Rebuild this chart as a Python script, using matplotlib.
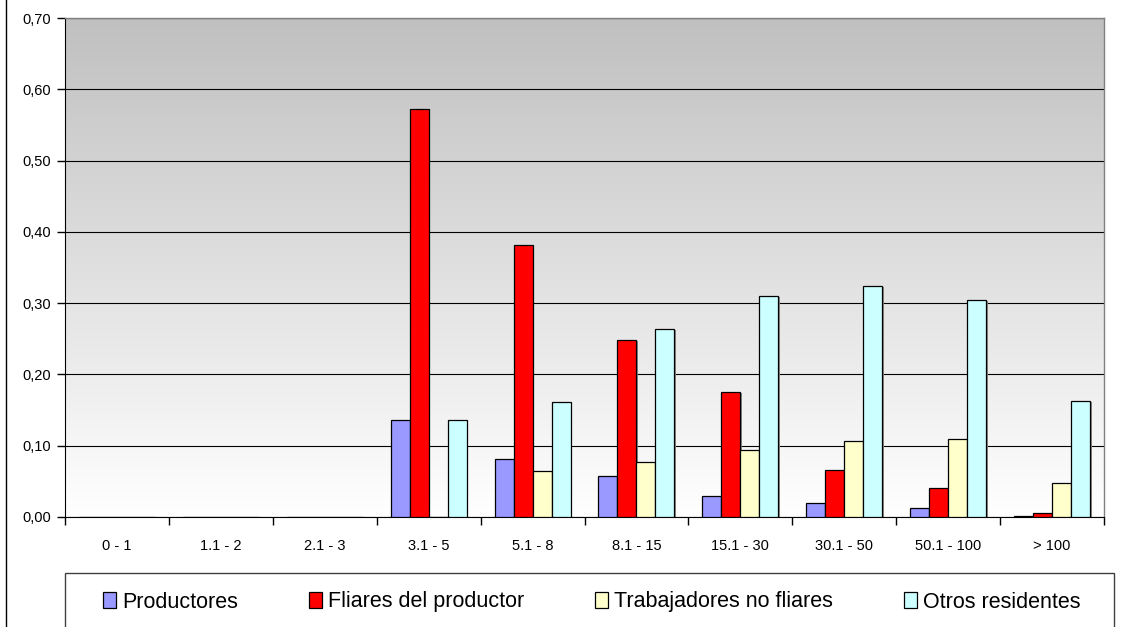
import numpy as np
import matplotlib
matplotlib.use("Agg")
import matplotlib.pyplot as plt
import matplotlib.patheffects as pe
from matplotlib.patches import Rectangle
from matplotlib.lines import Line2D
from matplotlib.ticker import FuncFormatter

plt.rcParams["font.family"] = ["Liberation Sans", "DejaVu Sans"]

# categories (hectareas)
categories = ["0 - 1", "1.1 - 2", "2.1 - 3", "3.1 - 5", "5.1 - 8",
              "8.1 - 15", "15.1 - 30", "30.1 - 50", "50.1 - 100", "> 100"]

productores = [0, 0, 0, 0.136, 0.082, 0.057, 0.029, 0.019, 0.012, 0.0015]
fliares = [0, 0, 0, 0.572, 0.381, 0.248, 0.175, 0.066, 0.041, 0.0055]
trabajadores = [0, 0, 0, 0, 0.065, 0.077, 0.094, 0.107, 0.110, 0.048]
otros = [0, 0, 0, 0.136, 0.162, 0.264, 0.310, 0.324, 0.305, 0.163]

series_names = ["Productores", "Fliares del productor",
                "Trabajadores no fliares", "Otros residentes"]
series_colors = ["#9999FF", "#FF0000", "#FFFFCC", "#CCFFFF"]

fig = plt.figure(figsize=(11.46, 6.27), dpi=100)
ax = fig.add_axes([65 / 1146, 1 - 517 / 627, 1039 / 1146, 499 / 627])

# gradient background of the plot area
grad = np.linspace(0, 1, 256).reshape(-1, 1)
ax.imshow(grad, cmap=matplotlib.colors.LinearSegmentedColormap.from_list(
    "bg", ["#FFFFFF", "#C0C0C0"]), aspect="auto",
    extent=[-0.5, 9.5, 0, 0.70], origin="lower", zorder=0)

x = np.arange(len(categories))
w = 0.183
data = [productores, fliares, trabajadores, otros]
shadow = [pe.SimplePatchShadow(offset=(1.2, -0.8), shadow_rgbFace="#808080", alpha=0.9),
          pe.Normal()]
for i, vals in enumerate(data):
    bars = ax.bar(x + (i - 1.5) * w, vals, width=w, color=series_colors[i],
                  edgecolor="black", linewidth=0.9, label=series_names[i], zorder=3)
    for b in bars:
        b.set_path_effects(shadow)

ax.set_xlim(-0.5, 9.5)
ax.set_ylim(0, 0.70)

ax.set_yticks(np.arange(0, 0.71, 0.10))
ax.yaxis.set_major_formatter(FuncFormatter(lambda v, p: ("%.2f" % v).replace(".", ",")))
ax.yaxis.grid(True, color="black", linewidth=0.8, zorder=1)
ax.set_axisbelow(True)

# ticks at category boundaries, labels at centers
ax.set_xticks(np.arange(-0.5, 10, 1))
ax.set_xticklabels([])
ax.set_xticks(x, minor=True)
ax.set_xticklabels(categories, minor=True)
ax.tick_params(axis="x", which="major", direction="out", length=6, width=1)
ax.tick_params(axis="x", which="minor", length=0, pad=16, labelsize=10.5)
ax.tick_params(axis="y", direction="out", length=6, width=1, labelsize=10.5, pad=4)

for s in ["top", "right"]:
    ax.spines[s].set_color("#808080")
    ax.spines[s].set_linewidth(1)
ax.spines["left"].set_color("black")
ax.spines["bottom"].set_color("black")

# legend box
fig.patches.append(Rectangle((65 / 1146, -0.05), (1114 - 65) / 1146, 0.05 + 54 / 627,
                             transform=fig.transFigure, facecolor="white",
                             edgecolor="#404040", linewidth=1))
handles, labels = ax.get_legend_handles_labels()
fig.legend(handles, labels, loc="center left", ncol=4, frameon=False,
           bbox_to_anchor=(92 / 1146, 1 - 602 / 627), fontsize=15.5,
           handlelength=0.6, handleheight=0.7, handletextpad=0.3,
           columnspacing=3.28, borderpad=0)

# outer border line on the left
fig.lines.append(Line2D([6 / 1146, 6 / 1146], [0, 1], transform=fig.transFigure,
                        color="black", linewidth=1))

fig.savefig("out.png", dpi=100)
